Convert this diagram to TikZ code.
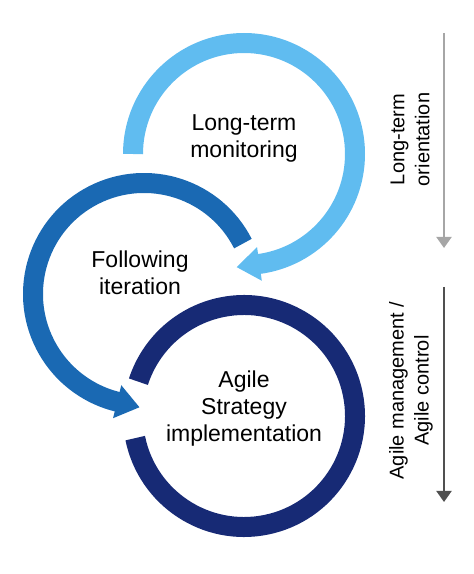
\documentclass[tikz,border=0pt]{standalone}
\usepackage{fontspec}
\setmainfont{Liberation Sans}
\usetikzlibrary{arrows.meta,calc}
\definecolor{lightblue}{HTML}{60BCF0}
\definecolor{midblue}{HTML}{1A69B3}
\definecolor{navy}{HTML}{172A75}
\definecolor{lgray}{HTML}{A6A6A6}
\definecolor{dgray}{HTML}{505050}
\begin{document}
\begin{tikzpicture}[x=1pt,y=1pt,
  ring/.style={line width=20pt},
  lbl/.style={align=center,font=\fontsize{23}{27}\selectfont,inner sep=0pt,text=black},
  sidelbl/.style={align=center,font=\fontsize{20}{25}\selectfont,inner sep=0pt,rotate=90,text=black},
  sidearrow/.style={line width=2pt,-{Triangle[length=11pt,width=15pt]}}]
\useasboundingbox (0,0) rectangle (474,574);
\coordinate (c1) at (244,420);
\coordinate (c2) at (144,280);
\coordinate (c3) at (244,158);
% bottom ring (navy)
\draw[ring,navy] ($(c3)+(191.5:111)$) arc[start angle=191.5,end angle=522,radius=111];
% middle ring (mid blue) with head
\draw[ring,midblue] ($(c2)+(27:111)$) arc[start angle=27,end angle=257,radius=111];
\fill[midblue] ($(c2)+(256:128)$) -- ($(c2)+(256:111)+(346:23)$) -- ($(c2)+(256:94)$) -- cycle;
% top ring (light blue) with head
\draw[ring,lightblue] ($(c1)+(180:111)$) arc[start angle=180,end angle=-83,radius=111];
\fill[lightblue] ($(c1)+(-82:128)$) -- ($(c1)+(-82:111)+(-172:23)$) -- ($(c1)+(-82:94)$) -- cycle;
% labels
\node[lbl] (t1) at (244,436) {Long-term\\monitoring};
\node[lbl] (t2) at (140,301) {Following\\iteration};
\node[lbl] (t3) at (244,165) {Agile\\Strategy\\implementation};
% side arrows
\coordinate (a1s) at (444,541);
\coordinate (a1e) at (444,326);
\coordinate (a2s) at (444,287);
\coordinate (a2e) at (444,72);
\draw[sidearrow,lgray] (a1s) -- (a1e);
\draw[sidearrow,dgray] (a2s) -- (a2e);
\node[sidelbl] (s1) at (410,434.5) {Long-term\\orientation};
\node[sidelbl] (s2) at (411,183.5) {Agile management /\\Agile control};
\end{tikzpicture}
\end{document}
